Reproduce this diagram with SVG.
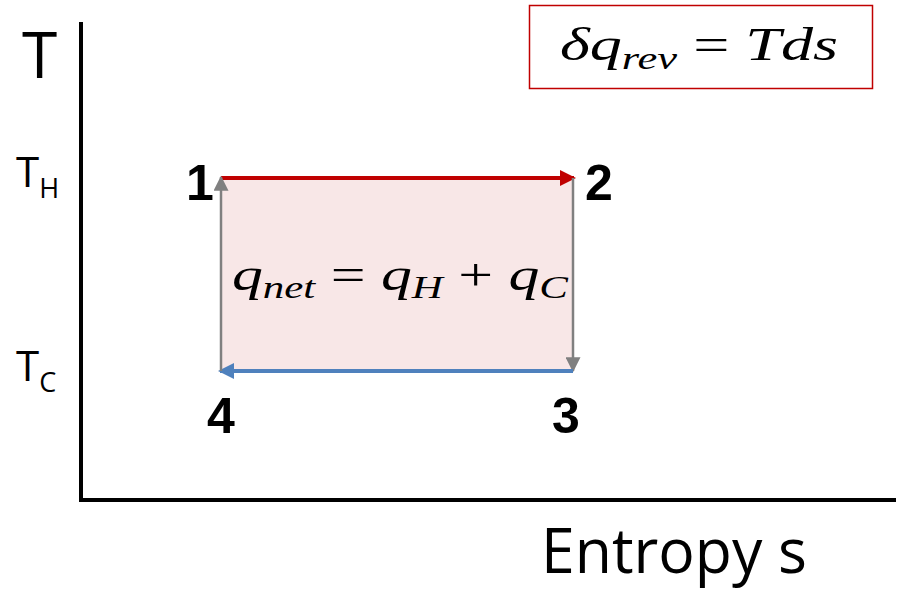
<svg xmlns="http://www.w3.org/2000/svg" width="901" height="593" viewBox="0 0 901 593">
<style>
.ax{stroke:#000;stroke-width:4;fill:none}
.lbl{font-family:"Open Sans","Noto Sans",sans-serif;fill:#000}
.num{font-family:"Liberation Sans",Arial,sans-serif;font-weight:bold;font-size:50px;fill:#000}
.math{font-family:"Liberation Serif","Times New Roman",serif;font-style:italic;fill:#000}
.mr{font-style:normal}
</style>
<defs>
<marker id="ar" markerWidth="4" markerHeight="4" refX="3.5" refY="2" orient="auto" markerUnits="strokeWidth"><path d="M0,0 L4,2 L0,4 z" fill="#c00000"/></marker>
<marker id="ab" markerWidth="4" markerHeight="4" refX="3.5" refY="2" orient="auto" markerUnits="strokeWidth"><path d="M0,0 L4,2 L0,4 z" fill="#4f81bd"/></marker>
<marker id="ag" markerWidth="6" markerHeight="6" refX="5.5" refY="3" orient="auto" markerUnits="strokeWidth"><path d="M0,0 L6,3 L0,6 z" fill="#808080"/></marker>
</defs>
<g id="axes">
<line class="ax" x1="81" y1="22" x2="81" y2="502"/>
<line class="ax" x1="79" y1="500" x2="896" y2="500"/>
<text class="lbl" x="22" y="78" font-size="64">T</text>
<text class="lbl" x="16" y="187" font-size="42">T<tspan font-size="27" dy="11">H</tspan></text>
<text class="lbl" x="16" y="381" font-size="42">T<tspan font-size="27" dy="11">C</tspan></text>
<text class="lbl" x="541" y="573" font-size="62" textLength="266" lengthAdjust="spacingAndGlyphs">Entropy s</text>
</g>
<g id="cycle-area">
<rect x="221" y="178" width="352" height="193" fill="#f8e7e7"/>
<text class="math" x="232" y="290" font-size="46" textLength="336" lengthAdjust="spacingAndGlyphs">q<tspan font-size="32" dy="8">net</tspan><tspan class="mr" dy="-8"> = </tspan>q<tspan font-size="32" dy="8">H</tspan><tspan class="mr" dy="-8"> + </tspan>q<tspan font-size="32" dy="8">C</tspan></text>
</g>
<g id="connectors">
<line x1="221" y1="178" x2="574" y2="178" stroke="#c00000" stroke-width="4" marker-end="url(#ar)"/>
<line x1="573" y1="178" x2="573" y2="371" stroke="#808080" stroke-width="2.5" marker-end="url(#ag)"/>
<line x1="573" y1="371" x2="220" y2="371" stroke="#4f81bd" stroke-width="4" marker-end="url(#ab)"/>
<line x1="221" y1="371" x2="221" y2="177" stroke="#808080" stroke-width="2.5" marker-end="url(#ag)"/>
</g>
<g id="n1"><text class="num" x="186" y="200">1</text></g>
<g id="n2"><text class="num" x="585" y="200">2</text></g>
<g id="n3"><text class="num" x="552" y="433">3</text></g>
<g id="n4"><text class="num" x="207" y="433">4</text></g>
<g id="formula">
<rect x="529.5" y="5.5" width="343" height="83" fill="#fff" stroke="#c00000" stroke-width="1.5"/>
<text class="math" x="560" y="60" font-size="46" textLength="278" lengthAdjust="spacingAndGlyphs">δq<tspan font-size="32" dy="9">rev</tspan><tspan class="mr" dy="-9"> = </tspan>Tds</text>
</g>
</svg>
